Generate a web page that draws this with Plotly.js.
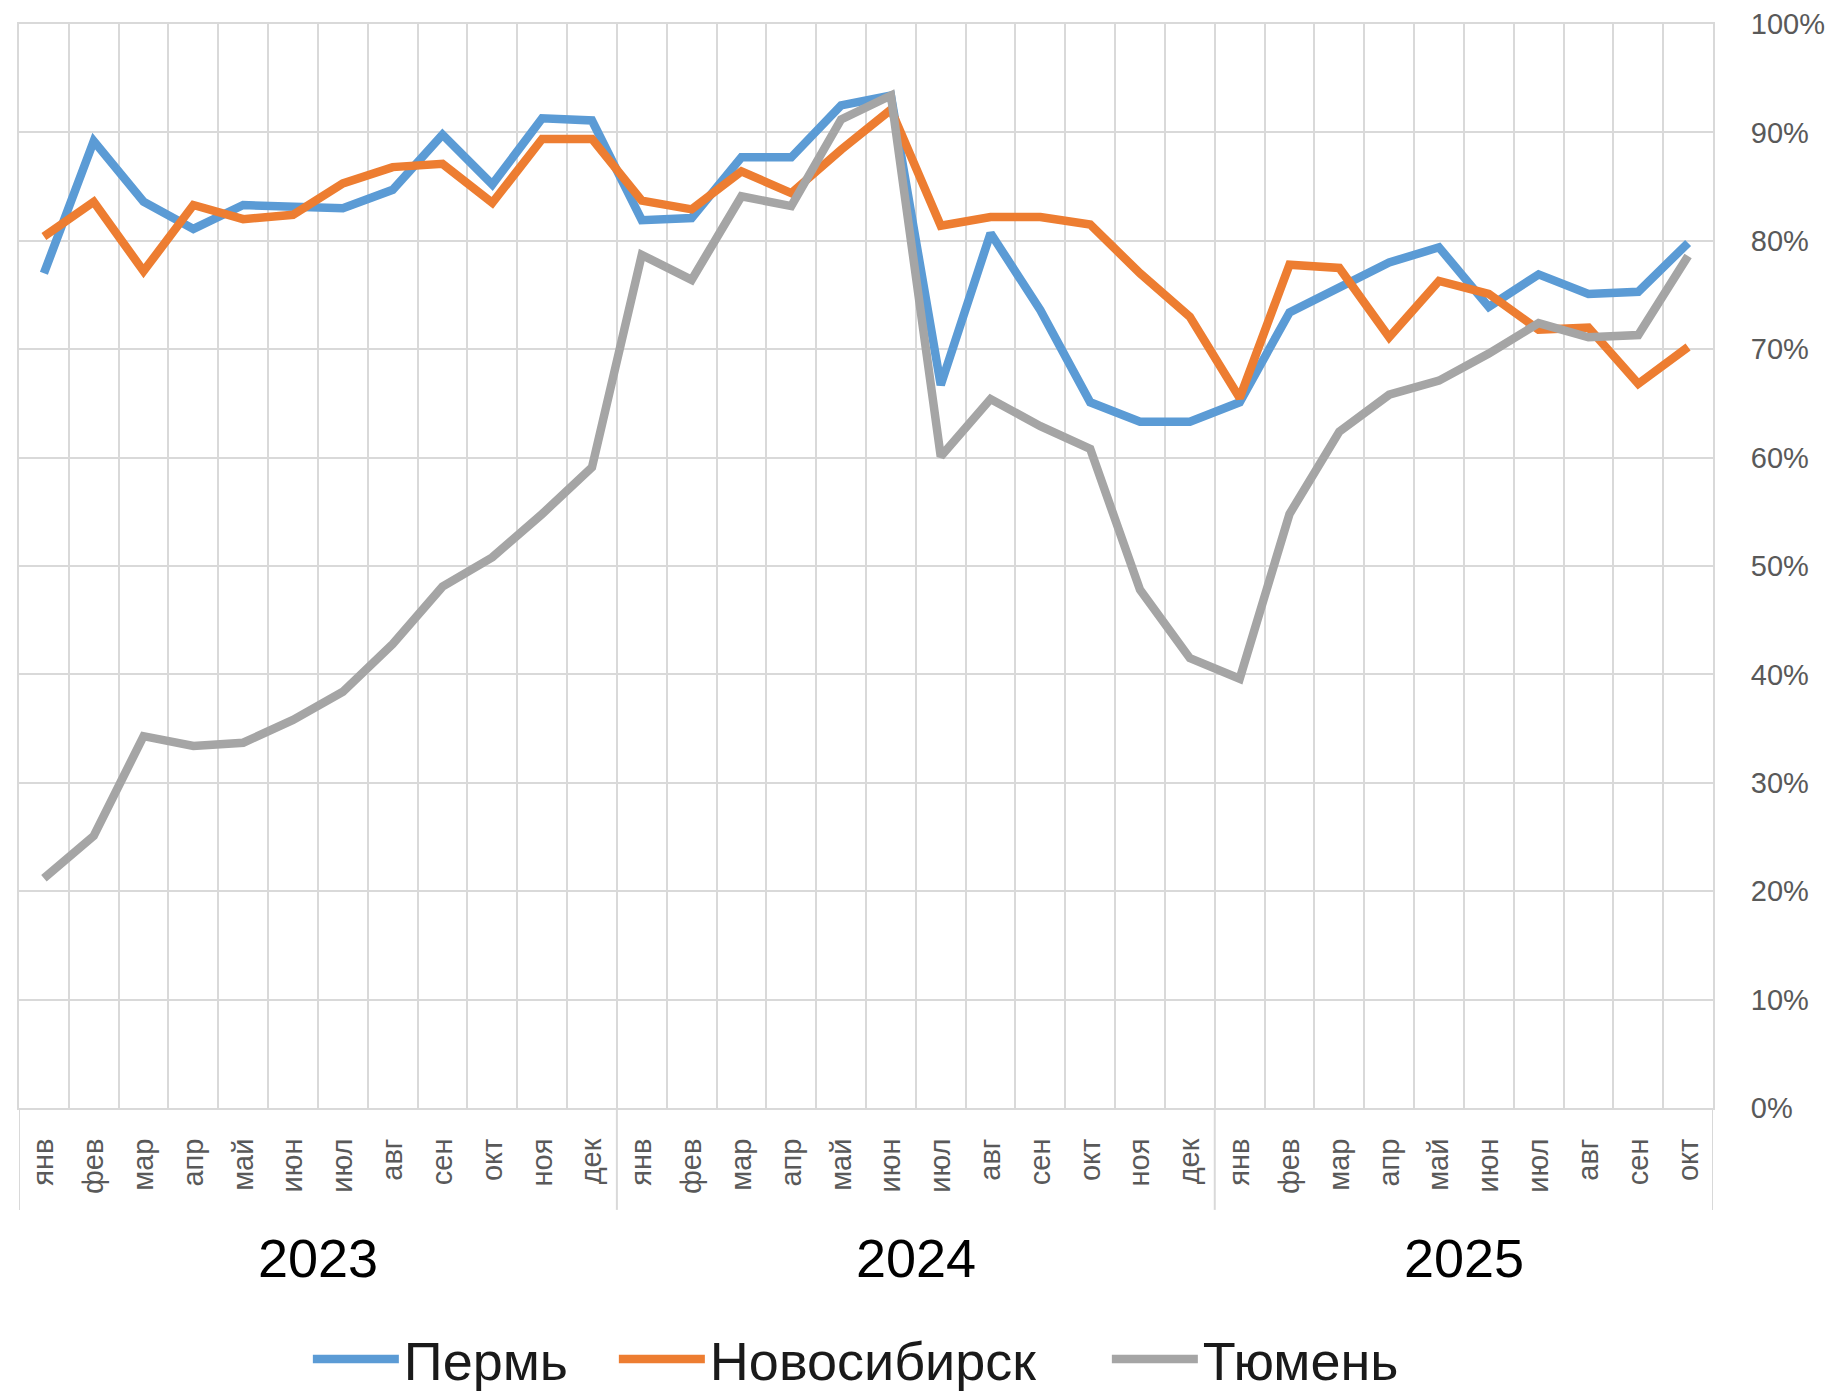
<!DOCTYPE html>
<html>
<head>
<meta charset="utf-8">
<script src="https://cdn.plot.ly/plotly-3.0.1.min.js"></script>
<style>html,body{margin:0;padding:0;background:#fff;}</style>
</head>
<body>
<div id="chart" style="width:1838px;height:1393px;"></div>
<script>
const years = ['2023', '2024', '2025'];
const monthsPerYear = [12, 12, 10];
const monthNames = ['янв','фев','мар','апр','май','июн','июл','авг','сен','окт','ноя','дек'];
const seriesNames = ['Пермь', 'Новосибирск', 'Тюмень'];

const perm = [77.0, 89.2, 83.6, 81.1, 83.3, 83.1, 83.0, 84.7, 89.8, 85.2, 91.3, 91.1,
              81.9, 82.1, 87.7, 87.7, 92.5, 93.4, 66.7, 80.7, 73.6, 65.1, 63.3, 63.3,
              65.1, 73.4, 75.8, 78.0, 79.4, 73.9, 76.9, 75.1, 75.3, 79.8];
const novosibirsk = [80.4, 83.6, 77.2, 83.3, 82.0, 82.4, 85.3, 86.8, 87.1, 83.5, 89.4, 89.4,
                     83.7, 82.9, 86.4, 84.4, 88.4, 92.1, 81.4, 82.2, 82.2, 81.5, 77.0, 73.0,
                     65.5, 77.8, 77.5, 71.1, 76.3, 75.1, 71.8, 72.0, 66.8, 70.2];
const tyumen = [21.2, 25.1, 34.3, 33.4, 33.7, 35.8, 38.4, 42.8, 48.1, 50.8, 54.8, 59.1,
                78.7, 76.4, 84.1, 83.2, 91.2, 93.4, 60.1, 65.4, 62.9, 60.8, 47.8, 41.5,
                39.6, 54.8, 62.4, 65.8, 67.1, 69.6, 72.4, 71.1, 71.3, 78.6];

// build category positions and tick labels from the arrays
const tickText = [];
const yearStart = [];
monthsPerYear.forEach((n) => {
  yearStart.push(tickText.length);
  for (let m = 0; m < n; m++) tickText.push(monthNames[m]);
});
const xIdx = tickText.map((_, i) => i);
const nCat = tickText.length;

const colors = ['#5B9BD5', '#ED7D31', '#A5A5A5'];
const legendWidths = [205, 392, 240];
const values = [perm, novosibirsk, tyumen];

const traces = values.map((v, k) => ({
  type: 'scatter',
  mode: 'lines',
  name: seriesNames[k],
  x: xIdx,
  y: v,
  line: {color: colors[k], width: 8.5},
  legendwidth: legendWidths[k],
  hoverinfo: 'skip'
}));

const gridCol = '#d9d9d9';

// dividers between years and year labels (positions derived from category indices)
const shapes = [];
const boundaries = [-0.5];
yearStart.forEach((s, i) => boundaries.push(s + monthsPerYear[i] - 0.5));
boundaries.forEach(b => shapes.push({
  type: 'line', xref: 'x', yref: 'paper', x0: b, x1: b, y0: 0, y1: -0.094,
  line: {color: gridCol, width: 2}, layer: 'below'
}));
const annotations = years.map((yr, i) => ({
  text: yr, xref: 'x', yref: 'paper',
  x: yearStart[i] + (monthsPerYear[i] - 1) / 2, y: -0.138,
  xanchor: 'center', yanchor: 'middle', showarrow: false,
  font: {family: 'Liberation Sans, Arial, sans-serif', size: 54, color: '#000'}
}));

const layout = {
  width: 1838, height: 1393,
  margin: {l: 19, r: 125, t: 24, b: 285, autoexpand: false},
  paper_bgcolor: '#fff', plot_bgcolor: '#fff',
  showlegend: true,
  legend: {
    orientation: 'h', x: 0.507, xanchor: 'center', y: -0.232, yanchor: 'middle',
    font: {family: 'Liberation Sans, Arial, sans-serif', size: 54, color: '#1a1a1a'},
    itemwidth: 86, traceorder: 'normal'
  },
  xaxis: {
    type: 'linear', range: [-0.5, nCat - 0.5], fixedrange: true,
    tickmode: 'array', tickvals: xIdx, ticktext: tickText,
    tickangle: -90, ticks: '', showgrid: false, zeroline: false,
    tickfont: {family: 'Liberation Sans, Arial, sans-serif', size: 29, color: '#595959'},
    ticklabelstandoff: 17,
    showline: true, linecolor: gridCol, linewidth: 2, mirror: true,
    minor: {tickmode: 'linear', tick0: -0.5, dtick: 1, showgrid: true, gridcolor: gridCol, gridwidth: 2, ticks: ''}
  },
  yaxis: {
    side: 'right', range: [0, 100], dtick: 10, tick0: 0, fixedrange: true,
    ticksuffix: '%', ticks: '',
    tickfont: {family: 'Liberation Sans, Arial, sans-serif', size: 29, color: '#595959'},
    ticklabelstandoff: 30,
    showgrid: true, gridcolor: gridCol, gridwidth: 2, zeroline: false,
    showline: true, linecolor: gridCol, linewidth: 2, mirror: true
  },
  shapes: shapes,
  annotations: annotations
};

Plotly.newPlot('chart', traces, layout, {displayModeBar: false, staticPlot: true});
</script>
</body>
</html>
